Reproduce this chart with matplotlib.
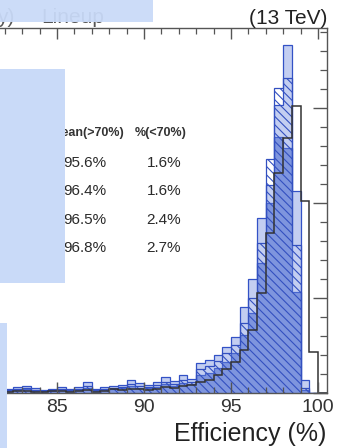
import numpy as np
import matplotlib
matplotlib.use("Agg")
import matplotlib.pyplot as plt
from matplotlib.patches import Rectangle
from matplotlib.ticker import MultipleLocator, NullFormatter

plt.rcParams['font.family'] = ['Liberation Sans', 'DejaVu Sans']
plt.rcParams['hatch.linewidth'] = 0.8

#---------DATA----------
# bin edges of the efficiency histograms (0.5 % wide)
edges = np.arange(81.5, 100.51, 0.5)

# fraction of events per bin (%), four samples
sample_light = [0.26, 0.21, 0.32, 0.37, 0.26, 0.16, 0.21, 0.32, 0.21, 0.32, 0.58, 0.21,
                0.32, 0.37, 0.42, 0.68, 0.53, 0.42, 0.58, 0.84, 0.63, 0.95, 0.74,
                1.58, 1.74, 2.00, 2.42, 2.95, 4.53, 6.00, 9.21, 10.95, 15.16, 18.32,
                10.63, 0.68, 0.0, 0.0]
sample_hatch = [0.16, 0.16, 0.21, 0.26, 0.16, 0.11, 0.16, 0.21, 0.16, 0.21, 0.37, 0.16,
                0.21, 0.26, 0.32, 0.47, 0.37, 0.32, 0.42, 0.58, 0.47, 0.68, 0.58,
                1.26, 1.42, 1.68, 2.10, 2.50, 3.70, 5.00, 7.90, 12.30, 16.05, 16.58,
                7.79, 0.26, 0.0, 0.0]
sample_dark = [0.11, 0.11, 0.16, 0.21, 0.11, 0.11, 0.11, 0.16, 0.11, 0.16, 0.26, 0.11,
               0.16, 0.21, 0.26, 0.37, 0.26, 0.26, 0.32, 0.47, 0.37, 0.53, 0.47,
               0.95, 1.05, 1.30, 1.63, 2.10, 3.05, 4.20, 6.85, 10.00, 13.47, 12.90,
               5.30, 0.16, 0.0, 0.0]
sample_line = [0.05, 0.05, 0.11, 0.11, 0.05, 0.05, 0.11, 0.11, 0.05, 0.11, 0.16, 0.05,
               0.11, 0.21, 0.16, 0.21, 0.21, 0.16, 0.21, 0.32, 0.26, 0.37, 0.42,
               0.58, 0.68, 0.95, 1.26, 1.63, 2.26, 3.32, 5.26, 8.42, 11.58, 13.42,
               15.10, 10.10, 2.16, 0.0]

mean_above = ["95.6%", "96.4%", "96.5%", "96.8%"]
frac_below = ["1.6%", "1.6%", "2.4%", "2.7%"]
xtick_vals = [85, 90, 95, 100]

#---------FIGURE----------
W, H = 360, 448
fig = plt.figure(figsize=(3.6, 4.48), dpi=100)

def fx(x):
    return x / W

def fy(y):
    return 1 - y / H

# axes extend past the left edge of the cropped picture
ax = fig.add_axes([fx(-30), fy(393), 356.7 / W, 365 / H])
ax.set_xlim(80, 100.5)
ax.set_ylim(0, 19.21)

blue = '#3352c6'
ax.stairs(sample_dark, edges, fill=True, facecolor='#3f5fcc', alpha=0.6,
          edgecolor='none')
ax.stairs(sample_dark, edges, color=blue, lw=0.9)
ax.stairs(sample_light, edges, fill=True, facecolor='#6a86dc', alpha=0.4,
          edgecolor='none')
ax.stairs(sample_light, edges, color=blue, lw=0.9)
ax.stairs(sample_hatch, edges, fill=True, facecolor='none', edgecolor='#3350c0',
          hatch='\\\\\\\\', lw=0.9)
ax.stairs(sample_line, edges, color='#333333', lw=1.1)

#---------AXES STYLE----------
for s in ax.spines.values():
    s.set_color('#555555')
    s.set_linewidth(1.0)
ax.set_xticks(xtick_vals)
ax.xaxis.set_minor_locator(MultipleLocator(1))
ax.yaxis.set_major_locator(MultipleLocator(5))
ax.yaxis.set_minor_locator(MultipleLocator(1))
ax.yaxis.set_major_formatter(NullFormatter())
ax.tick_params(which='both', direction='in', top=True, right=True, color='#555555')
ax.tick_params(axis='x', which='major', length=8, width=1, labelsize=14,
               labelcolor='#333333', pad=4)
ax.tick_params(axis='x', which='minor', length=4, width=0.9)
ax.tick_params(axis='y', which='major', length=10, width=1)
ax.tick_params(axis='y', which='minor', length=5, width=0.9)

#---------TEXT----------
fig.text(fx(326), fy(441), "Efficiency (%)", ha='right', va='baseline',
         fontsize=18, color='#222222')
fig.text(fx(327), fy(24), "(13 TeV)", ha='right', va='baseline',
         fontsize=15, color='#222222')
# header text mostly hidden under the cover box
fig.text(fx(-3), fy(23), "y)", ha='left', va='baseline',
         fontsize=15, color='#555555')
fig.text(fx(41), fy(23), "Lineup", ha='left', va='baseline',
         fontsize=15, color='#555555')

fig.text(fx(124), fy(136), "Mean(>70%)", ha='right', va='baseline',
         fontsize=9, fontweight='bold', color='#333333')
fig.text(fx(160.5), fy(136), "%(<70%)", ha='center', va='baseline',
         fontsize=9, fontweight='bold', color='#333333')
for i, (m, f) in enumerate(zip(mean_above, frac_below)):
    yb = 167 + i * 28.3
    fig.text(fx(106), fy(yb), m, ha='right', va='baseline', fontsize=11,
             color='#2a2a2a')
    fig.text(fx(181), fy(yb), f, ha='right', va='baseline', fontsize=11,
             color='#2a2a2a')

#---------COVER BOXES----------
box_col = '#c9daf8'
fig.add_artist(Rectangle((fx(0), fy(21.7)), fx(153), 21.7 / H, transform=fig.transFigure,
                         facecolor=box_col, edgecolor='none', alpha=0.94, zorder=10))
fig.add_artist(Rectangle((fx(0), fy(283)), fx(65), (283 - 69) / H, transform=fig.transFigure,
                         facecolor=box_col, edgecolor='none', zorder=10))
fig.add_artist(Rectangle((fx(0), fy(448)), fx(7), (448 - 323) / H, transform=fig.transFigure,
                         facecolor=box_col, edgecolor='none', zorder=10))

fig.savefig("out.png", dpi=100)
